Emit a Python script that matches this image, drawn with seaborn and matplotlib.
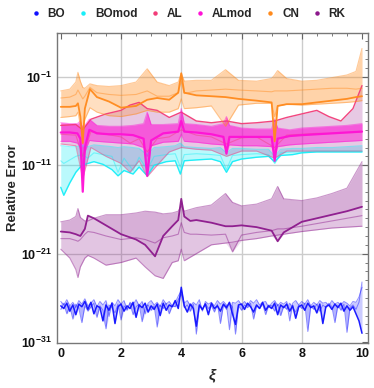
import numpy as np
import seaborn as sns
import matplotlib.pyplot as plt
from matplotlib.lines import Line2D
from matplotlib.ticker import FixedLocator, NullFormatter

# ---- data (log10 of relative error) ----
bo_x = [round(0.1 * i, 1) for i in range(101)]
bo_main = [-26.9, -27.2, -26.6, -27.5, -26.8, -27.9, -26.7, -27.0, -26.4, -27.3,
           -26.5, -27.8, -26.9, -27.1, -28.6, -26.8, -27.4, -26.6, -28.9, -27.0,
           -26.7, -27.5, -26.9, -27.2, -26.5, -28.2, -26.8, -27.1, -26.6, -27.6,
           -26.9, -27.3, -26.7, -28.0, -26.6, -27.4, -26.8, -27.0, -26.3, -27.2,
           -24.8, -26.9, -27.6, -26.7, -27.2, -29.2, -26.8, -27.3, -26.7, -27.9,
           -26.6, -27.2, -26.9, -27.5, -26.7, -27.1, -26.5, -27.8, -29.0, -26.8,
           -26.7, -27.3, -26.6, -27.0, -27.6, -26.8, -27.2, -26.5, -27.4, -26.9,
           -27.2, -26.6, -27.9, -26.8, -27.1, -26.7, -27.5, -26.9, -28.3, -27.0,
           -26.8, -27.4, -26.6, -27.1, -26.9, -27.7, -26.7, -28.9, -27.0, -26.8,
           -27.3, -26.7, -27.1, -26.6, -27.5, -26.9, -27.4, -27.0, -27.8, -28.6,
           -30.0]
bo_low = [-27.3, -26.6, -27.8, -26.9, -28.4, -26.7, -27.2, -28.8, -26.9, -27.5,
          -27.0, -26.6, -28.2, -26.9, -27.4, -29.5, -26.8, -27.1, -27.7, -26.7,
          -28.5, -26.9, -27.3, -26.6, -27.9, -27.0, -26.7, -28.7, -27.1, -26.8,
          -27.4, -26.9, -29.3, -26.8, -27.2, -26.6, -27.8, -26.9, -27.0, -26.2,
          -25.6, -27.1, -26.8, -27.5, -26.7, -30.1, -26.9, -27.4, -26.6, -27.2,
          -26.9, -27.6, -26.7, -28.9, -26.8, -27.3, -26.6, -27.0, -30.1, -26.9,
          -27.4, -26.8, -27.1, -26.6, -28.4, -26.9, -27.2, -26.7, -27.9, -26.8,
          -26.9, -27.5, -26.7, -28.0, -26.9, -27.3, -26.6, -27.1, -27.6, -26.8,
          -27.2, -26.6, -29.8, -26.9, -27.3, -26.7, -27.5, -26.8, -27.1, -26.6,
          -27.0, -28.8, -26.8, -27.4, -26.7, -29.9, -27.1, -26.8, -27.3, -26.5,
          -24.2]
bo_up = [-26.4, -26.8, -26.2, -26.9, -26.5, -27.1, -26.3, -26.7, -26.1, -26.9,
         -26.6, -26.2, -27.0, -26.4, -26.8, -26.3, -28.1, -26.5, -26.9, -26.2,
         -26.7, -26.3, -27.4, -26.5, -26.8, -26.2, -26.9, -26.4, -27.8, -26.6,
         -26.3, -26.8, -26.5, -27.0, -26.2, -26.7, -26.4, -26.9, -26.5, -25.8,
         -25.2, -26.6, -26.3, -26.9, -26.5, -26.8, -26.2, -27.5, -26.4, -26.7,
         -26.5, -26.9, -26.3, -26.7, -26.4, -26.8, -29.6, -26.5, -26.6, -26.3,
         -26.8, -26.4, -26.9, -26.3, -26.6, -26.2, -26.8, -26.5, -26.4, -27.1,
         -26.6, -26.3, -26.9, -26.5, -26.7, -26.4, -28.6, -26.6, -26.3, -26.8,
         -26.4, -26.7, -26.2, -26.9, -26.5, -26.8, -26.3, -26.6, -26.5, -26.9,
         -26.3, -26.7, -26.5, -26.8, -26.4, -26.6, -26.9, -26.4, -26.5, -25.9,
         -24.8]

bm_x = [0, 0.1, 0.3, 0.5, 0.7, 0.9, 1.1, 1.4, 1.7, 1.9, 2.1, 2.4, 2.6, 2.87, 3.1, 3.5, 3.8,
        3.97, 4.1, 4.5, 5.0, 5.3, 5.5, 5.7, 6.0, 6.5, 6.9, 7.1, 7.3, 7.7, 8.0, 8.5, 9.0, 9.5, 10.0]
bm_up = [-8.8, -8.8, -8.9, -8.9, -8.8, -8.9, -8.7, -8.8, -8.9, -9.0, -8.9, -9.0, -9.1, -9.8, -9.0,
         -8.9, -8.8, -8.5, -8.9, -9.0, -9.1, -9.0, -9.6, -9.1, -9.1, -9.2, -9.2, -10.0, -9.2, -9.1,
         -9.1, -9.0, -9.0, -8.9, -8.8]
bm_mid = [-10.5, -10.8, -10.4, -10.0, -9.8, -10.2, -9.6, -9.8, -10.0, -11.8, -10.2, -11.6, -10.1,
          -11.5, -10.0, -9.8, -9.7, -11.2, -9.8, -9.7, -9.8, -9.9, -11.5, -9.9, -9.8, -9.7, -9.8,
          -10.8, -9.6, -9.5, -9.5, -9.4, -9.4, -9.4, -9.4]
bm_low = [-13.5, -14.4, -13.0, -11.8, -11.0, -10.8, -10.6, -10.9, -11.5, -12.2, -11.6, -12.0, -11.2,
          -12.2, -11.0, -10.6, -10.5, -12.0, -10.5, -10.4, -10.3, -10.6, -11.8, -10.6, -10.3, -10.1,
          -10.0, -10.6, -9.9, -9.8, -9.6, -9.5, -9.5, -9.5, -9.5]

al_x = [0, 0.5, 0.73, 1.0, 1.5, 2.0, 2.3, 2.6, 2.87, 3.2, 3.6, 4.0, 4.5, 5.0, 5.5, 6.0, 6.5,
        7.1, 7.5, 8.0, 8.5, 8.9, 9.3, 9.7, 10.0]
al_up = [-6.5, -6.4, -7.0, -5.8, -5.2, -4.8, -4.2, -3.9, -4.6, -4.8, -5.6, -5.0, -6.0, -6.2, -6.0,
         -6.3, -6.2, -6.0, -5.6, -5.2, -4.8, -5.5, -6.0, -4.6, -2.0]
al_mid = [-7.5, -7.6, -10.0, -7.2, -7.5, -7.8, -8.5, -8.0, -9.5, -8.0, -7.8, -7.0, -7.6, -7.8, -8.6,
          -7.9, -7.8, -9.0, -7.6, -7.5, -7.4, -7.4, -7.3, -7.3, -7.2]
al_low = [-8.6, -8.8, -12.5, -9.0, -10.0, -10.8, -11.8, -10.5, -12.3, -11.0, -9.5, -9.0, -9.2, -9.3,
          -10.0, -9.4, -9.4, -10.2, -9.4, -9.4, -9.4, -9.4, -9.4, -9.4, -9.4]

am_x = [0, 0.3, 0.55, 0.65, 0.73, 0.8, 0.95, 1.2, 1.6, 2.0, 2.4, 2.75, 2.87, 3.0, 3.4, 3.9, 4.0,
        4.1, 4.5, 5.0, 5.4, 5.5, 5.6, 6.0, 6.5, 7.0, 7.1, 7.2, 7.6, 8.0, 8.5, 9.0, 9.5, 10.0]
am_up = [-6.2, -6.3, -6.3, -6.0, -6.8, -6.5, -5.8, -6.5, -6.6, -6.6, -6.5, -6.3, -5.0, -6.4, -6.4,
         -6.3, -4.6, -6.3, -6.4, -6.6, -6.3, -5.5, -6.5, -6.8, -6.9, -6.9, -5.8, -6.8, -7.0, -6.8,
         -6.7, -6.6, -6.5, -6.3]
am_mid = [-7.3, -7.3, -7.4, -8.0, -14.0, -9.0, -7.0, -7.4, -7.5, -7.5, -7.6, -8.0, -12.2, -8.2,
          -7.4, -7.2, -6.0, -7.2, -7.3, -7.5, -7.8, -9.7, -7.8, -7.8, -7.8, -7.8, -10.5, -8.0, -7.7,
          -7.6, -7.5, -7.4, -7.3, -7.2]
am_low = [-8.3, -8.3, -8.5, -9.0, -11.0, -9.5, -8.2, -8.3, -8.4, -8.5, -8.6, -9.0, -10.0, -8.8,
          -8.4, -8.3, -7.5, -8.3, -8.4, -8.6, -8.7, -9.0, -8.7, -8.8, -8.8, -8.9, -9.5, -8.9, -8.7,
          -8.6, -8.5, -8.4, -8.3, -8.2]

cn_x = [0, 0.3, 0.5, 0.57, 0.65, 0.73, 0.8, 0.97, 1.2, 1.6, 2.0, 2.5, 2.87, 3.2, 3.6, 3.9, 4.0,
        4.1, 4.5, 5.0, 5.47, 5.9, 6.5, 7.0, 7.1, 7.2, 7.5, 8.0, 8.5, 9.0, 9.5, 9.8, 10.0]
cn_top = [-2.6, -2.4, -1.6, -0.5, -1.5, -2.2, -2.3, -1.8, -2.0, -2.1, -2.0, -1.6, -0.1, -1.6, -2.0,
          -1.6, -0.6, -1.5, -1.4, -1.4, -0.2, -1.4, -1.5, -1.2, -0.8, -0.3, -1.2, -1.5, -1.4, -1.1,
          -0.8, -0.4, 2.2]
cn_up = [-3.4, -3.3, -3.0, -2.5, -3.0, -3.5, -3.2, -2.2, -2.8, -3.0, -3.1, -3.0, -2.6, -3.2, -3.2,
         -2.8, -1.5, -2.9, -2.6, -2.5, -2.4, -2.5, -2.6, -2.7, -2.6, -2.6, -2.6, -2.5, -2.4, -2.3,
         -2.3, -2.4, -2.3]
cn_main = [-4.4, -4.4, -4.3, -4.0, -5.5, -8.5, -4.6, -2.4, -3.3, -3.8, -4.5, -4.3, -3.6, -3.4, -3.6,
           -2.8, -0.6, -2.8, -3.1, -3.2, -3.3, -3.5, -3.7, -3.9, -8.3, -4.3, -4.1, -4.1, -3.9, -3.7,
           -3.5, -3.3, -3.2]
cn_low = [-5.6, -5.5, -5.4, -5.0, -6.5, -7.0, -5.8, -4.5, -5.0, -5.4, -5.5, -5.2, -4.8, -5.0, -5.0,
          -4.6, -3.5, -4.6, -4.5, -4.3, -6.6, -4.2, -4.0, -4.0, -5.5, -4.3, -4.1, -4.2, -4.1, -4.0,
          -3.9, -3.8, -3.7]

rk_x = [0, 0.3, 0.5, 0.57, 0.65, 0.8, 0.9, 1.1, 1.5, 2.0, 2.5, 2.8, 3.13, 3.4, 3.7, 3.9, 4.0, 4.1,
        4.3, 4.5, 5.0, 5.47, 5.7, 6.0, 6.5, 7.0, 7.2, 7.4, 8.0, 8.5, 9.0, 9.5, 10.0]
rk_main = [-18.5, -18.6, -18.8, -18.9, -19.0, -18.2, -16.7, -17.0, -17.8, -18.8, -19.4, -20.0, -21.3,
           -19.0, -17.9, -17.2, -14.8, -16.8, -17.3, -17.2, -17.5, -17.9, -17.9, -17.8, -18.0, -18.4,
           -19.6, -18.6, -17.4, -17.0, -16.6, -16.2, -15.7]
rk_up = [-17.4, -17.2, -16.8, -15.9, -16.9, -17.3, -17.3, -17.0, -16.6, -16.6, -16.4, -16.2, -16.3,
         -16.5, -16.4, -16.2, -15.6, -16.2, -16.0, -15.8, -15.5, -14.2, -15.2, -15.6, -15.4, -14.8,
         -13.4, -14.8, -15.0, -14.7, -14.2, -13.6, -10.6]
rk_mid = [-19.3, -19.3, -19.5, -19.6, -19.4, -18.8, -18.5, -18.6, -19.0, -19.4, -19.2, -19.4, -19.8,
          -19.2, -19.0, -18.8, -17.5, -18.6, -18.8, -18.8, -18.9, -18.8, -20.8, -18.9, -18.6, -18.4,
          -18.2, -18.2, -17.9, -17.6, -17.3, -17.0, -16.7]
rk_low = [-20.5, -21.5, -22.8, -23.7, -22.5, -21.5, -21.2, -21.5, -22.3, -22.0, -21.5, -22.5, -23.5,
          -23.8, -22.0, -21.8, -20.5, -21.8, -21.4, -21.0, -20.0, -19.8, -19.7, -19.5, -19.3, -19.0,
          -18.9, -18.8, -18.5, -18.3, -18.1, -18.0, -17.9]

methods = ['BO', 'BOmod', 'AL', 'ALmod', 'CN', 'RK']
colors = {'BO': '#1010ff', 'BOmod': '#18eef8', 'AL': '#f23c78', 'ALmod': '#ff12d6',
          'CN': '#ff8a1c', 'RK': '#8c188c'}


def draw_method(ax, x, curves, color, fill_color=None, env_alpha=0.15, pair_alpha=0.12,
                main_lw=1.3, lw=0.8):
    """curves[0] is the main (dark) line, the rest are lighter ones"""
    fill_color = fill_color or color
    arr = np.array(curves)
    ax.fill_between(x, 10 ** arr.min(axis=0), 10 ** arr.max(axis=0), color=fill_color,
                    alpha=env_alpha, lw=0)
    for c1, c2 in zip(curves[:-1], curves[1:]):
        ax.fill_between(x, 10 ** np.array(c1), 10 ** np.array(c2), color=fill_color,
                        alpha=pair_alpha, lw=0)
    for c in curves[1:]:
        sns.lineplot(x=x, y=10 ** np.array(c), ax=ax, color=color, lw=lw, alpha=0.45,
                     legend=False, sort=False)
    sns.lineplot(x=x, y=10 ** np.array(curves[0]), ax=ax, color=color, lw=main_lw, alpha=0.95,
                 legend=False, sort=False)


sns.set_style('white')
plt.rcParams['font.family'] = ['Liberation Sans', 'DejaVu Sans']
plt.rcParams['font.weight'] = 'bold'
plt.rcParams['mathtext.fontset'] = 'custom'
plt.rcParams['mathtext.rm'] = 'Liberation Sans:bold'
plt.rcParams['mathtext.it'] = 'Liberation Sans:bold:italic'
plt.rcParams['mathtext.bf'] = 'Liberation Sans:bold'
plt.rcParams['mathtext.default'] = 'rm'

fig = plt.figure(figsize=(3.74, 3.88), dpi=100)
ax = fig.add_axes([0.152, 0.116, 0.832, 0.799])
ax.set_yscale('log')

# grid first so data sits on top
for gx in [2, 4, 6, 8]:
    ax.axvline(gx, color='#cccccc', lw=1, zorder=0)
for gy in [1e-21, 1e-11, 1e-1]:
    ax.axhline(gy, color='#cccccc', lw=1, zorder=0)

draw_method(ax, bo_x, [bo_main, bo_low, bo_up], colors['BO'], env_alpha=0.1, pair_alpha=0.12,
            main_lw=1.1, lw=0.7)
draw_method(ax, rk_x, [rk_main, rk_up, rk_mid, rk_low], colors['RK'], env_alpha=0.14,
            pair_alpha=0.12)
draw_method(ax, bm_x, [bm_low, bm_mid, bm_up], colors['BOmod'], env_alpha=0.18, pair_alpha=0.14,
            main_lw=1.0)
draw_method(ax, al_x, [al_up, al_mid, al_low], colors['AL'], fill_color='#a02c9a',
            env_alpha=0.22, pair_alpha=0.04, main_lw=1.0)
draw_method(ax, am_x, [am_mid, am_up, am_low], colors['ALmod'], env_alpha=0.3, pair_alpha=0.25,
            main_lw=1.6)
draw_method(ax, cn_x, [cn_main, cn_top, cn_up, cn_low], colors['CN'], env_alpha=0.15,
            pair_alpha=0.14)

ax.set_xlim(-0.13, 10.2)
ax.set_ylim(10 ** -31.1, 10 ** 3.95)
ax.set_xticks([0, 2, 4, 6, 8, 10])
ax.set_xticklabels(['0', '2', '4', '6', '8', '10'])
ax.xaxis.set_minor_locator(FixedLocator([i * 0.5 for i in range(21)]))
ax.set_yticks([1e-31, 1e-21, 1e-11, 1e-1])
ax.set_yticklabels([r'$10^{-31}$', r'$10^{-21}$', r'$10^{-11}$', r'$10^{-1}$'])
ax.yaxis.set_minor_locator(FixedLocator([10.0 ** k for k in range(-31, 4)]))
ax.yaxis.set_minor_formatter(NullFormatter())
ax.tick_params(which='both', direction='in', top=True, right=True, colors='#666666',
               labelcolor='#111111', labelsize=9)
ax.tick_params(which='major', length=4, width=0.8)
ax.tick_params(which='minor', length=2, width=0.6)
for s in ax.spines.values():
    s.set_color('#777777')
    s.set_linewidth(1)

ax.set_xlabel('ξ', fontsize=11, fontweight='bold', fontstyle='italic', labelpad=6)
ax.set_ylabel('Relative Error', fontsize=9.5, fontweight='bold', labelpad=2)

handles = [Line2D([], [], marker='o', ls='', ms=2.2, color=colors[m]) for m in methods]
fig.legend(handles, methods, loc='center', bbox_to_anchor=(0.505, 0.963), ncol=6, frameon=False,
           handlelength=0.6, handletextpad=0.7, columnspacing=1.2,
           prop={'weight': 'bold', 'size': 8.5})

fig.savefig('out.png', dpi=100)
